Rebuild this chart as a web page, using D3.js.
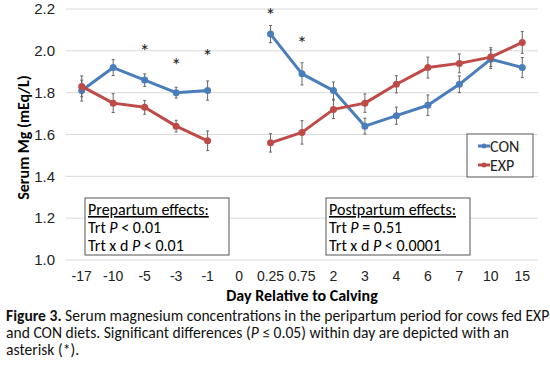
<!DOCTYPE html>
<html>
<head>
<meta charset="utf-8">
<script src="https://cdn.jsdelivr.net/npm/d3@7"></script>
<style>
  body { margin: 0; background: #fff; }
  svg { font-family: Carlito, Calibri, Lato, sans-serif; }
</style>
</head>
<body>
<div id="container"></div>
<script>
/* DATA */
const days = ["-17", "-10", "-5", "-3", "-1", "0", "0.25", "0.75", "2", "3", "4", "6", "7", "10", "15"];
const conMg = [1.81, 1.92, 1.86, 1.80, 1.81, null, 2.08, 1.89, 1.81, 1.64, 1.69, 1.74, 1.84, 1.96, 1.92];
const conSE = [0.05, 0.038, 0.03, 0.026, 0.046, null, 0.041, 0.053, 0.041, 0.038, 0.041, 0.049, 0.04, 0.045, 0.048];
const expMg = [1.83, 1.75, 1.73, 1.64, 1.57, null, 1.56, 1.61, 1.72, 1.75, 1.84, 1.92, 1.94, 1.97, 2.04];
const expSE = [0.05, 0.045, 0.033, 0.028, 0.047, null, 0.044, 0.056, 0.044, 0.044, 0.041, 0.05, 0.045, 0.045, 0.052];
const starDays = ["-5", "-3", "-1", "0.25", "0.75"];
const starMg = [2.01, 1.94, 1.985, 2.18, 2.045];
const yTicks = [1.0, 1.2, 1.4, 1.6, 1.8, 2.0, 2.2];

/* CONSTANTS */
const width = 550, height = 365,
  margin = { top: 9, bottom: 105, left: 66, right: 12 };

const series = [
  { name: "CON", values: conMg, se: conSE, color: "#4a7ebb" },
  { name: "EXP", values: expMg, se: expSE, color: "#be4b48" }
];

/* SCALES */
const xScale = d3.scaleBand()
  .domain(days)
  .range([margin.left, width - margin.right]);

const yScale = d3.scaleLinear()
  .domain([1.0, 2.2])
  .range([height - margin.bottom, margin.top]);

const cx = d => xScale(d) + xScale.bandwidth() / 2;

const svg = d3.select("#container")
  .append("svg")
  .attr("width", width)
  .attr("height", height);

// gridlines
svg.append("g")
  .selectAll("line")
  .data(yTicks)
  .join("line")
  .attr("x1", margin.left)
  .attr("x2", width - margin.right)
  .attr("y1", d => yScale(d))
  .attr("y2", d => yScale(d))
  .attr("stroke", "#d9d9d9")
  .attr("stroke-width", 1);

// y axis
const yAxis = d3.axisLeft(yScale)
  .tickValues(yTicks)
  .tickFormat(d3.format(".1f"))
  .tickSize(0)
  .tickPadding(11);

svg.append("g")
  .attr("transform", `translate(${margin.left},0)`)
  .call(yAxis)
  .call(g => g.select(".domain").remove())
  .call(g => g.selectAll("text").attr("font-size", 15).attr("fill", "#222").attr("font-family", null));

// x axis
const xAxis = d3.axisBottom(xScale).tickSize(0).tickPadding(11);

svg.append("g")
  .attr("transform", `translate(0,${height - margin.bottom})`)
  .call(xAxis)
  .call(g => g.select(".domain").remove())
  .call(g => g.selectAll("text").attr("font-size", 14).attr("fill", "#222").attr("font-family", null));

// axis titles
svg.append("text")
  .attr("text-anchor", "middle")
  .attr("x", 302)
  .attr("y", 301)
  .attr("font-size", 16)
  .attr("font-weight", "bold")
  .text("Day Relative to Calving");

svg.append("text")
  .attr("text-anchor", "middle")
  .attr("transform", `translate(29,${(yScale(1.0) + yScale(2.2)) / 2 + 3}) rotate(-90)`)
  .attr("font-size", 16)
  .attr("font-weight", "bold")
  .text("Serum Mg (mEq/L)");

// lines, error bars, markers
const line = d3.line()
  .defined(d => d.v != null)
  .x(d => cx(d.day))
  .y(d => yScale(d.v));

series.forEach(s => {
  const pts = days.map((day, i) => ({ day, v: s.values[i], se: s.se[i] }));
  const g = svg.append("g");

  g.append("path")
    .datum(pts)
    .attr("d", line)
    .attr("fill", "none")
    .attr("stroke", s.color)
    .attr("stroke-width", 3)
    .attr("stroke-linejoin", "round");

  const valid = pts.filter(d => d.v != null);

  g.selectAll(".err")
    .data(valid)
    .join("path")
    .attr("class", "err")
    .attr("d", d => {
      const x = cx(d.day), y0 = yScale(d.v - d.se), y1 = yScale(d.v + d.se);
      return `M${x},${y0}V${y1}M${x - 1.5},${y0}h3M${x - 1.5},${y1}h3`;
    })
    .attr("stroke", "#666")
    .attr("stroke-width", 1)
    .attr("fill", "none");

  g.selectAll("circle")
    .data(valid)
    .join("circle")
    .attr("cx", d => cx(d.day))
    .attr("cy", d => yScale(d.v))
    .attr("r", 3.5)
    .attr("fill", s.color);
});

// asterisks
svg.append("g")
  .selectAll("text")
  .data(starDays.map((d, i) => ({ day: d, v: starMg[i] })))
  .join("text")
  .attr("x", d => cx(d.day))
  .attr("y", d => yScale(d.v) + 9)
  .attr("text-anchor", "middle")
  .attr("font-size", 20)
  .attr("fill", "#222")
  .text("*");

// legend
const legend = svg.append("g").attr("transform", "translate(467,134)");
legend.append("rect")
  .attr("width", 66).attr("height", 43)
  .attr("fill", "#fff").attr("stroke", "#555").attr("stroke-width", 1);
series.forEach((s, i) => {
  const y = 12 + i * 19;
  legend.append("line")
    .attr("x1", 11).attr("x2", 23).attr("y1", y).attr("y2", y)
    .attr("stroke", s.color).attr("stroke-width", 3);
  legend.append("circle").attr("cx", 17).attr("cy", y).attr("r", 2.5).attr("fill", s.color);
  legend.append("text")
    .attr("x", 23).attr("y", y + 6)
    .attr("font-size", 16).attr("fill", "#222")
    .text(s.name);
});

// effect boxes
function effectBox(x, title, lines) {
  const g = svg.append("g").attr("transform", `translate(${x},198)`);
  g.append("rect")
    .attr("width", 144).attr("height", 57)
    .attr("fill", "#fff").attr("stroke", "#555").attr("stroke-width", 1);
  g.append("text")
    .attr("x", 3).attr("y", 17)
    .attr("font-size", 16)
    .attr("text-decoration", "underline")
    .text(title);
  lines.forEach((l, i) => {
    const t = g.append("text").attr("x", 3).attr("y", 35 + i * 18).attr("font-size", 16);
    t.append("tspan").text(l[0]);
    t.append("tspan").attr("font-style", "italic").text("P");
    t.append("tspan").text(l[1]);
  });
}
effectBox(85, "Prepartum effects:", [["Trt ", " < 0.01"], ["Trt x d ", " < 0.01"]]);
effectBox(326, "Postpartum effects:", [["Trt ", " = 0.51"], ["Trt x d ", " < 0.0001"]]);

// caption
const cap = svg.append("g").attr("font-size", 15.6).attr("fill", "#111");
const c1 = cap.append("text").attr("x", 6).attr("y", 321);
c1.append("tspan").attr("font-weight", "bold").text("Figure 3.");
c1.append("tspan").text(" Serum magnesium concentrations in the peripartum period for cows fed EXP");
const c2 = cap.append("text").attr("x", 6).attr("y", 338);
c2.append("tspan").text("and CON diets. Significant differences (");
c2.append("tspan").attr("font-style", "italic").text("P");
c2.append("tspan").text(" ≤ 0.05) within day are depicted with an");
cap.append("text").attr("x", 6).attr("y", 355).text("asterisk (*).");
</script>
</body>
</html>
